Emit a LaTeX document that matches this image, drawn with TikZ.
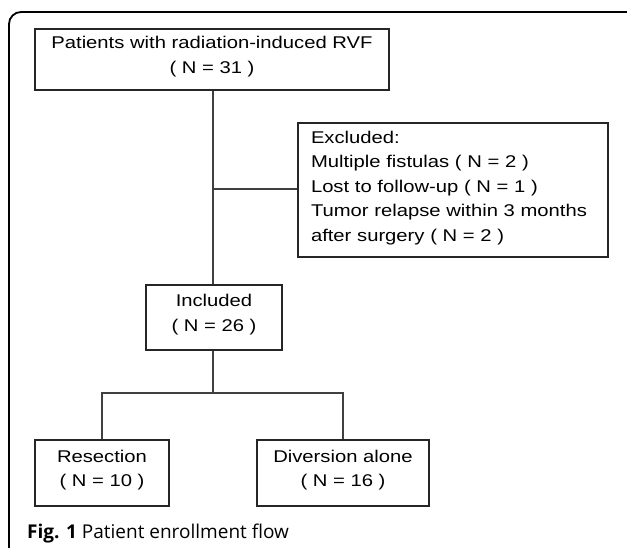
\documentclass[tikz,border=0pt]{standalone}
\usepackage{fontspec}
\newfontfamily\flowfont[FakeStretch=1.19]{Liberation Sans}
\newfontfamily\capfont{Open Sans}
\newcommand{\padtwo}{\rule[-9.6pt]{0pt}{9.6pt}}
\newcommand{\padfive}{\rule[-7.6pt]{0pt}{7.6pt}}
\begin{document}
\begin{tikzpicture}[x=1pt,y=-1pt,
  box/.style={draw=black!85, line width=1.2pt, inner sep=0pt,
    font=\flowfont\fontsize{17}{24.6}\selectfont},
  link/.style={draw=black!75, line width=1.2pt},
  frame/.style={draw=black, line width=1.8pt, rounded corners=12pt}]
\useasboundingbox (0,0) rectangle (627,548);
\draw[frame] (9,548) -- (9,12) -- (627,12);
\node[box, minimum width=354pt, minimum height=61pt, align=center] (top) at (212,59.5)
  {Patients with radiation-induced RVF\\( N = 31 )\padtwo};
\node[box, minimum width=310pt, minimum height=134pt, align=left, text width=284pt] (excl) at (453,190)
  {Excluded:\\Multiple fistulas ( N = 2 )\\Lost to follow-up ( N = 1 )\\Tumor relapse within 3 months\\after surgery ( N = 2 )\padfive};
\node[box, minimum width=136pt, minimum height=65pt, align=center] (incl) at (214,317.5)
  {Included\\( N = 26 )\padtwo};
\node[box, minimum width=134pt, minimum height=66pt, align=center] (res) at (102,473)
  {Resection\\( N = 10 )\padtwo};
\node[box, minimum width=172pt, minimum height=66pt, align=center] (div) at (343,473)
  {Diversion alone\\( N = 16 )\padtwo};
\coordinate (j1) at (213,189);
\coordinate (j2) at (213,393);
\draw[link] (top.south -| j1) -- (incl.north -| j1);
\draw[link] (j1) -- (excl.west |- j1);
\draw[link] (incl.south -| j2) -- (j2);
\draw[link] (res.north) |- (j2) -| (div.north);
\node[anchor=base west, inner sep=0pt, font=\capfont\fontsize{19}{22}\selectfont] (cap) at (27,538)
  {\textbf{Fig. 1} Patient enrollment flow};
\end{tikzpicture}
\end{document}
